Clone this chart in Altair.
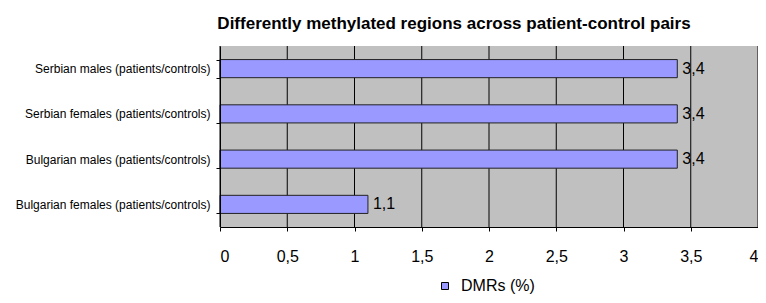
import altair as alt
import pandas as pd

categories = [
    "Serbian males (patients/controls)",
    "Serbian females (patients/controls)",
    "Bulgarian males (patients/controls)",
    "Bulgarian females (patients/controls)",
]
values = [3.4, 3.4, 3.4, 1.1]
series_name = "DMRs (%)"
x_ticks = [0, 0.5, 1, 1.5, 2, 2.5, 3, 3.5, 4]

W, H = 538, 181

df = pd.DataFrame({"cat": categories, "v": values, "series": [series_name] * len(values)})
grid_df = pd.DataFrame({"t": x_ticks})

font = "Liberation Sans"

y_enc = alt.Y(
    "cat:N",
    sort=categories,
    title=None,
    scale=alt.Scale(paddingInner=0.6, paddingOuter=0.3),
    axis=alt.Axis(
        tickBand="extent",
        labelFont=font,
        labelFontSize=12,
        labelColor="#000000",
        labelPadding=6,
        tickColor="#000000",
        tickSize=4,
        domainColor="#000000",
        grid=False,
        labelLimit=400,
        zindex=1,
    ),
)

x_scale = alt.Scale(domain=[0, 4], nice=False)

x_enc = alt.X(
    "v:Q",
    title=None,
    scale=x_scale,
    axis=alt.Axis(
        values=x_ticks,
        labelExpr="replace(toString(datum.value), '.', ',')",
        labelFont=font,
        labelFontSize=16,
        labelColor="#000000",
        labelPadding=17,
        tickColor="#000000",
        tickSize=4,
        domainColor="#000000",
        grid=False,
        zindex=1,
    ),
)

background = alt.Chart(pd.DataFrame({"a": [0]})).mark_rect(color="#C0C0C0").encode(
    x=alt.value(0), x2=alt.value(W), y=alt.value(0), y2=alt.value(H)
)

grid = alt.Chart(grid_df).mark_rule(color="#000000", strokeWidth=1).encode(
    x=alt.X("t:Q", scale=x_scale),
)

bars = alt.Chart(df).mark_bar(stroke="#222222", strokeWidth=1).encode(
    x=x_enc,
    y=y_enc,
    color=alt.Color(
        "series:N",
        scale=alt.Scale(range=["#9999FF"]),
        legend=alt.Legend(
            title=None,
            orient="none",
            legendX=217,
            legendY=232,
            symbolType="square",
            symbolSize=49,
            symbolStrokeColor="#000000",
            symbolStrokeWidth=1,
            labelOffset=8,
            labelFont=font,
            labelFontSize=16,
            labelColor="#000000",
        ),
    ),
)

labels = alt.Chart(df).transform_calculate(
    lab="replace(format(datum.v, '.1f'), '.', ',')"
).mark_text(align="left", baseline="middle", dx=5, font=font, fontSize=16, color="#000000").encode(
    x=alt.X("v:Q"),
    y=alt.Y("cat:N", sort=categories),
    text="lab:N",
)

chart = (
    alt.layer(background, grid, bars, labels)
    .properties(
        width=W,
        height=H,
        autosize=alt.AutoSizeParams(type="none"),
        padding={"left": 212, "top": 38, "right": 0, "bottom": 68},
        title=alt.TitleParams(
            "Differently methylated regions across patient-control pairs",
            font=font,
            fontSize=17,
            fontWeight="bold",
            color="#000000",
            anchor="middle",
            frame="group",
            dx=-35,
            offset=7,
        ),
    )
    .configure_view(strokeWidth=0)
    .configure(background="#FFFFFF")
)

chart.save("out.html", embed_options={"renderer": "svg", "actions": False})
